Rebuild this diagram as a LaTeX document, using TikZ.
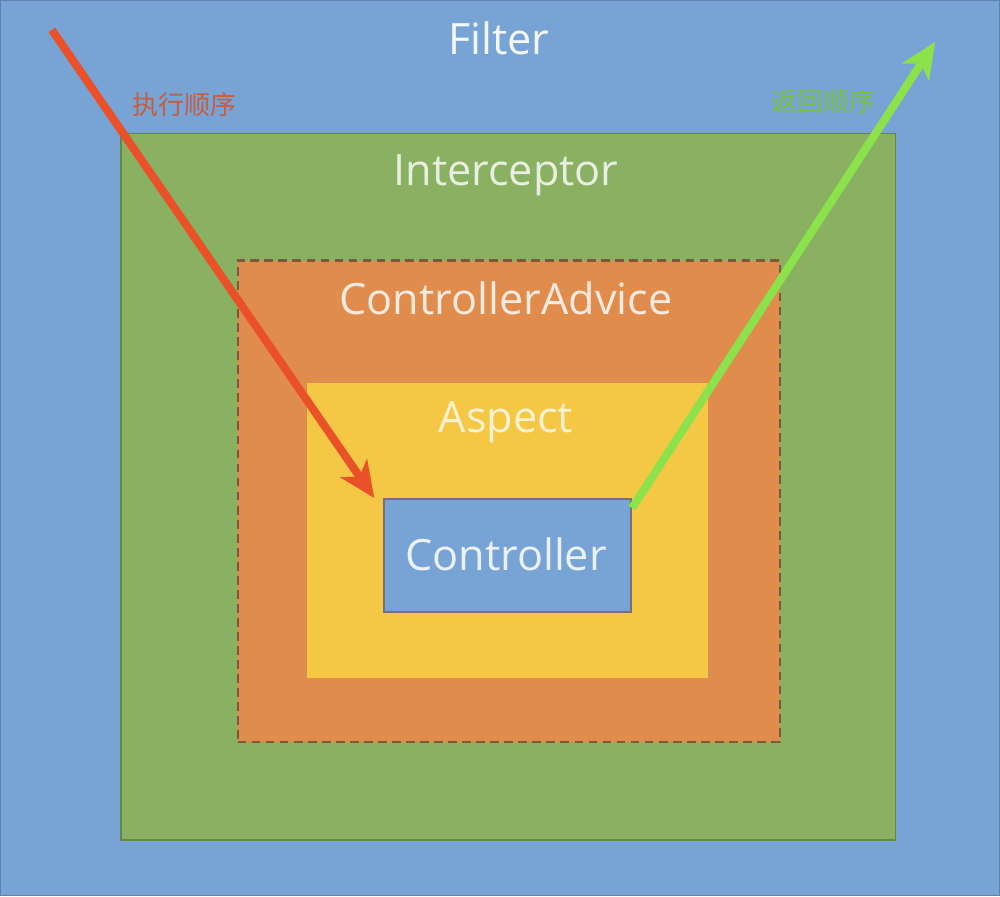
\documentclass[tikz,border=0pt]{standalone}
\usepackage{fontspec}
\setsansfont{Open Sans}
\newfontfamily\cjk{Noto Sans CJK SC}
\usetikzlibrary{arrows.meta}
\usepackage{xcolor}

\definecolor{filterblue}{HTML}{78A3D5}
\definecolor{intgreen}{HTML}{8AB162}
\definecolor{advorange}{HTML}{E08C4C}
\definecolor{aspyellow}{HTML}{F4C744}
\definecolor{runred}{HTML}{EA5128}
\definecolor{backgreen}{HTML}{8BE24A}

\tikzset{
  layer/.style={rectangle, inner sep=0pt, anchor=north west},
  title/.style={font=\sffamily\fontsize{12.3}{14}\selectfont, inner sep=0pt},
  orderlabel/.style={font=\cjk\fontsize{7.4}{9}\selectfont, inner sep=0pt},
  order/.style={line width=2.3pt, -{Stealth[length=0.36cm,width=0.32cm,inset=0.1cm]}},
}

\begin{document}
\begin{tikzpicture}[x=0.01cm,y=-0.01cm]
      % Layers
      \node[layer, fill=filterblue, draw=filterblue!80!black, line width=0.4pt,
            minimum width=10cm, minimum height=8.96cm] (filter) at (0,0) {};
      \node[layer, fill=intgreen, draw=intgreen!75!black, line width=0.5pt,
            minimum width=7.76cm, minimum height=7.07cm] (interceptor) at (120,133) {};
      \node[layer, fill=advorange, draw=advorange!55!black!80!gray, line width=0.6pt,
            dash pattern=on 2.5pt off 1.5pt,
            minimum width=5.43cm, minimum height=4.82cm] (advice) at (237,260) {};
      \node[layer, fill=aspyellow,
            minimum width=4.01cm, minimum height=2.95cm] (aspect) at (307,383) {};
      \node[layer, fill=filterblue, draw=black!55, line width=0.6pt,
            minimum width=2.47cm, minimum height=1.13cm] (controller) at (384,499) {};

      % Titles
      \node[title, text=white!92!filterblue] (tfilter) at (500,38) {Filter};
      \node[title, text=white!80!intgreen] (tinterceptor) at (507,176) {Interceptor};
      \node[title, text=white!82!advorange] (tadvice) at (507,299) {ControllerAdvice};
      \node[title, text=white!75!aspyellow] (taspect) at (507,423) {Aspect};
      \node[title, text=white!85!filterblue] (tcontroller) at (507,555) {Controller};

      % Order
      \coordinate (start) at (52,30);
      \coordinate (finish) at (937,42);
      \coordinate (leave) at ([yshift=-0.1cm]controller.north east);
      \draw[order, runred] (start) -- ([xshift=-0.09cm]controller.north west);
      \draw[order, backgreen] (leave) -- (finish);
      \node[orderlabel, text=runred!80!black!85!white] (trun) at (185,105) {执行顺序};
      \node[orderlabel, text=backgreen!85!black] (tback) at (825,102) {返回顺序};
  \end{tikzpicture}
\end{document}
